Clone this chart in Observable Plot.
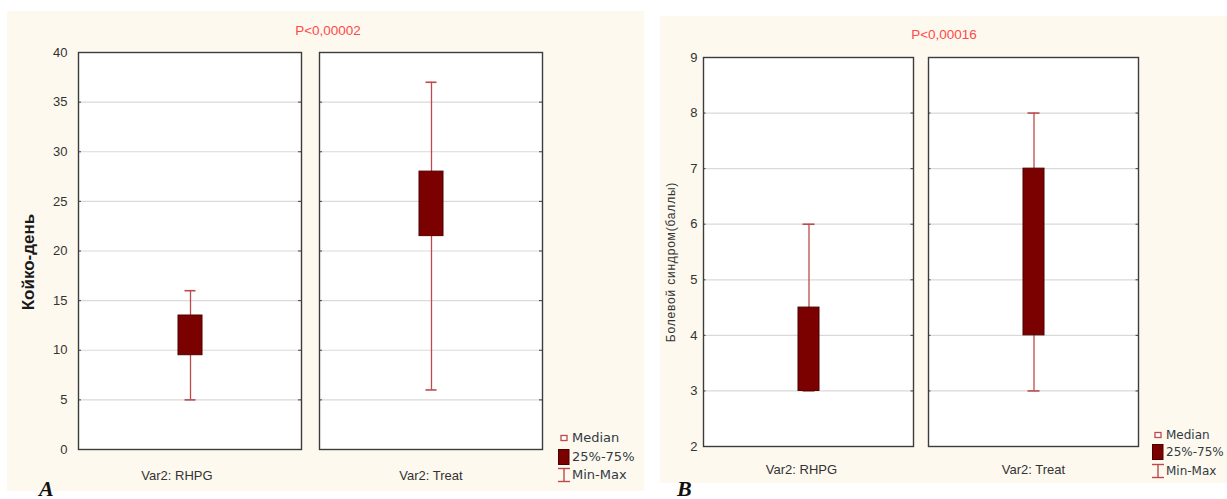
<!DOCTYPE html>
<html>
<head>
<meta charset="utf-8">
<script src="https://cdn.jsdelivr.net/npm/d3@7"></script>
<script src="https://cdn.jsdelivr.net/npm/@observablehq/plot@0.6"></script>
<style>
  html, body { margin: 0; padding: 0; background: #ffffff; width: 1227px; height: 499px; overflow: hidden; }
  .panel { position: absolute; background: #fdf9ee; }
  .panel svg { position: absolute; left: 0; top: 0; }
  .title { position: absolute; font-family: "Liberation Sans", Arial, sans-serif; font-size: 13.5px; color: #ff4a4a; transform: translate(-50%, -50%); white-space: nowrap; }
  .ylab { position: absolute; font-family: "Liberation Sans", Arial, sans-serif; white-space: nowrap; transform: translate(-50%, -50%) rotate(-90deg); }
  .leg { position: absolute; font-family: "DejaVu Sans", sans-serif; color: #333a44; white-space: nowrap; }
  .letter { position: absolute; font-family: "Liberation Serif", "Times New Roman", serif; font-style: italic; font-weight: bold; font-size: 22px; line-height: 1; color: #111; }
</style>
</head>
<body>
<div id="root"></div>
<script>
// ---- data ----
const groups = ["Var2: RHPG", "Var2: Treat"];

// Panel A: Койко-день
const daysMin = [5, 6];
const daysQ1 = [9.5, 21.5];
const daysQ3 = [13.5, 28];
const daysMax = [16, 37];
const daysTicks = [0, 5, 10, 15, 20, 25, 30, 35, 40];

// Panel B: Болевой синдром (баллы)
const painMin = [3, 3];
const painQ1 = [3, 4];
const painQ3 = [4.5, 7];
const painMax = [6, 8];
const painTicks = [2, 3, 4, 5, 6, 7, 8, 9];

const titleA = "P<0,00002";
const titleB = "P<0,00016";
const yLabelA = "Койко-день";
const yLabelB = "Болевой синдром(баллы)";
const legendLabels = ["Median", "25%-75%", "Min-Max"];

// ---- styles ----
const boxFill = "#7b0000";
const boxStroke = "#4d0000";
const whiskerColor = "#bd4a4c";

const root = document.getElementById("root");

function el(tag, cls, style, text) {
  const e = document.createElement(tag);
  if (cls) e.className = cls;
  Object.assign(e.style, style || {});
  if (text != null) e.textContent = text;
  return e;
}

function buildPlot(o) {
  const rows = groups.map((g, i) => ({g, min: o.min[i], q1: o.q1[i], q3: o.q3[i], max: o.max[i]}));
  const fw = o.facetWidth;
  return Plot.plot({
    width: o.w,
    height: o.h,
    marginLeft: o.ml, marginRight: o.mr, marginTop: o.mt, marginBottom: o.mb,
    style: {fontFamily: "'Liberation Sans', Arial, sans-serif", fontSize: "13px", color: "#333", background: "transparent", overflow: "visible"},
    fx: {domain: groups, paddingInner: o.fxPad, paddingOuter: 0, label: null},
    x: {domain: ["box"], padding: o.xPad, axis: null},
    y: {domain: o.yDomain, label: null},
    marks: [
      Plot.frame({fill: "white", stroke: null}),
      Plot.gridY(o.ticks, {stroke: "#d9d9d9", strokeOpacity: 1, strokeWidth: 1.2}),
      Plot.ruleY(o.ticks.slice(1, -1), {insetRight: fw - 3, stroke: "#444"}),
      Plot.ruleY(o.ticks.slice(1, -1), {insetLeft: fw - 3, stroke: "#444"}),
      Plot.ruleX(rows, {fx: "g", x: d => "box", y1: "min", y2: "max", stroke: whiskerColor, strokeWidth: 1.3}),
      Plot.tickY(rows, {fx: "g", x: d => "box", y: "min", stroke: whiskerColor, strokeWidth: 1.6, insetLeft: o.cap, insetRight: o.cap}),
      Plot.tickY(rows, {fx: "g", x: d => "box", y: "max", stroke: whiskerColor, strokeWidth: 1.6, insetLeft: o.cap, insetRight: o.cap}),
      Plot.barY(rows, {fx: "g", x: d => "box", y1: "q1", y2: "q3", fill: boxFill, stroke: boxStroke, strokeWidth: 1}),
      Plot.frame({stroke: "#3c3c3c", strokeWidth: 1.4}),
      Plot.axisY(o.ticks, {anchor: "left", tickSize: 0, tickPadding: o.tickPad, tickFormat: d => String(d), fontSize: 13, fill: "#333", label: null}),
      Plot.axisFx({anchor: "bottom", ticks: [groups[0]], tickSize: 0, tickPadding: o.fxTickPad, dx: o.rhpgDx, fontSize: 13, fill: "#333", label: null}),
      Plot.axisFx({anchor: "bottom", ticks: [groups[1]], tickSize: 0, tickPadding: o.fxTickPad, fontSize: 13, fill: "#333", label: null})
    ]
  });
}

function legendIcon(kind) {
  const ns = "http://www.w3.org/2000/svg";
  const s = document.createElementNS(ns, "svg");
  s.setAttribute("width", 14); s.setAttribute("height", 16);
  s.style.position = "absolute";
  let html = "";
  if (kind === 0) html = `<rect x="4" y="5.5" width="6" height="5" fill="white" stroke="${whiskerColor}" stroke-width="1.3"/>`;
  if (kind === 1) html = `<rect x="1.5" y="0.5" width="10.5" height="15" fill="${boxFill}" stroke="${boxStroke}"/>`;
  if (kind === 2) html = `<g stroke="${whiskerColor}" stroke-width="1.4"><line x1="1" y1="1.5" x2="13" y2="1.5"/><line x1="7" y1="1.5" x2="7" y2="14.5"/><line x1="1" y1="14.5" x2="13" y2="14.5"/></g>`;
  s.innerHTML = html;
  return s;
}

function panel(o) {
  const p = el("div", "panel", {left: o.left + "px", top: o.top + "px", width: o.w + "px", height: o.h + "px"});
  p.appendChild(buildPlot(o));
  p.appendChild(el("div", "title", {left: o.titleX + "px", top: o.titleY + "px"}, o.title));
  p.appendChild(el("div", "ylab", {left: o.ylabX + "px", top: o.ylabY + "px", fontSize: o.ylabSize + "px", fontWeight: o.ylabWeight, letterSpacing: o.ylabSpacing + "px", color: o.ylabColor}, o.ylab));
  legendLabels.forEach((t, i) => {
    const ic = legendIcon(i);
    ic.style.left = (o.legX - 15) + "px";
    ic.style.top = (o.legY[i] - 8) + "px";
    p.appendChild(ic);
    const tx = el("div", "leg", {left: o.legX + "px", top: (o.legY[i] - o.legSize * 0.62) + "px", fontSize: o.legSize + "px"}, t);
    p.appendChild(tx);
  });
  root.appendChild(p);
}

// Panel A: frames x 77-300, 318-542, y 52-449
panel({
  left: 7, top: 11, w: 637, h: 480,
  ml: 70, mr: 102, mt: 41, mb: 42,
  facetWidth: 223, fxPad: 0.0747, xPad: 0.806, cap: 6.5,
  yDomain: [0, 40], ticks: daysTicks, min: daysMin, q1: daysQ1, q3: daysQ3, max: daysMax,
  tickPad: 11, fxTickPad: 21, rhpgDx: -13,
  title: titleA, titleX: 321, titleY: 19,
  ylab: yLabelA, ylabX: 22, ylabY: 251, ylabSize: 17, ylabWeight: "bold", ylabSpacing: 0, ylabColor: "#1a1a1a",
  legX: 565, legY: [427, 446, 464], legSize: 13
});

// Panel B: frames x 703-913, 928-1139, y 57-446
panel({
  left: 660, top: 16, w: 567, h: 467,
  ml: 43, mr: 88, mt: 41, mb: 37,
  facetWidth: 210.5, fxPad: 0.0665, xPad: 0.8185, cap: 4.5,
  yDomain: [2, 9], ticks: painTicks, min: painMin, q1: painQ1, q3: painQ3, max: painMax,
  tickPad: 6, fxTickPad: 18, rhpgDx: -7,
  title: titleB, titleX: 284, titleY: 18,
  ylab: yLabelB, ylabX: 11, ylabY: 246, ylabSize: 12, ylabWeight: "normal", ylabSpacing: 0.8, ylabColor: "#333",
  legX: 506, legY: [419, 436, 455], legSize: 12
});

root.appendChild(el("div", "letter", {left: "39px", top: "478px"}, "A"));
root.appendChild(el("div", "letter", {left: "677px", top: "478px"}, "B"));
</script>
</body>
</html>
